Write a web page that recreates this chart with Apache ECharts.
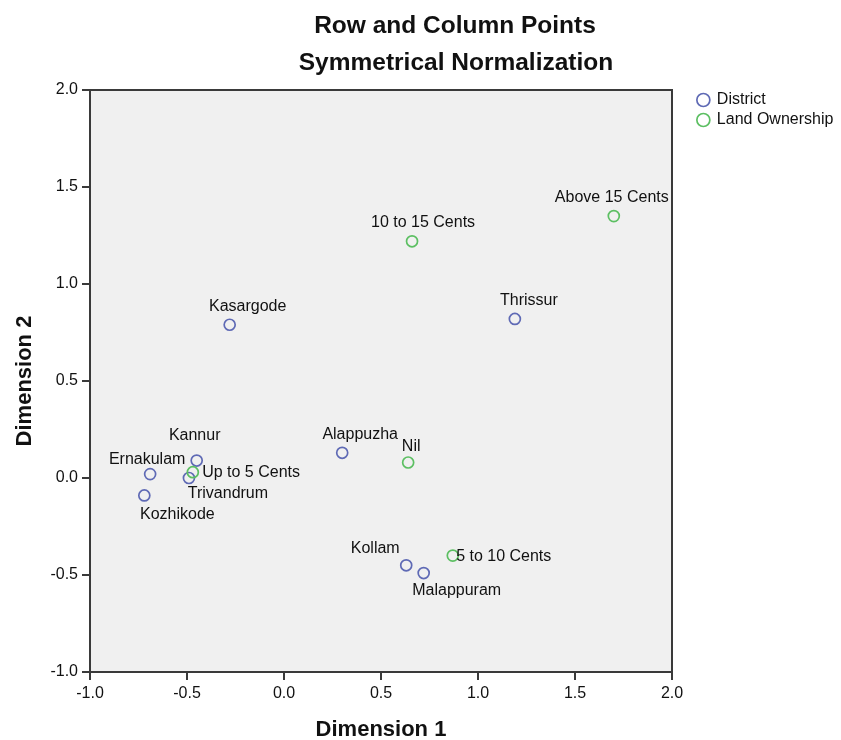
<!DOCTYPE html>
<html>
<head>
<meta charset="utf-8">
<title>Row and Column Points</title>
<script src="https://cdn.jsdelivr.net/npm/echarts@6/dist/echarts.min.js"></script>
<style>
  html, body { margin: 0; padding: 0; background: #ffffff; }
  #chart { width: 841px; height: 740px; }
</style>
</head>
<body>
<div id="chart"></div>
<script>
// Row points (districts)
var districtNames = ['Kasargode', 'Thrissur', 'Alappuzha', 'Kannur', 'Ernakulam', 'Trivandrum', 'Kozhikode', 'Kollam', 'Malappuram'];
var districtDim1  = [-0.28, 1.19, 0.30, -0.45, -0.69, -0.49, -0.72, 0.63, 0.72];
var districtDim2  = [0.79, 0.82, 0.13, 0.09, 0.02, 0.00, -0.09, -0.45, -0.49];

// Column points (land ownership)
var landNames = ['Up to 5 Cents', '5 to 10 Cents', '10 to 15 Cents', 'Above 15 Cents', 'Nil'];
var landDim1  = [-0.47, 0.87, 0.66, 1.70, 0.64];
var landDim2  = [0.03, -0.40, 1.22, 1.35, 0.08];

// Axis ticks
var axisMin = -1.0;
var axisMax = 2.0;
var tickStep = 0.5;

// Label placement per point: [position, distance, dx, dy]
var labelPlacement = {
  'Kasargode':      ['top', 4, 18, 0],
  'Thrissur':       ['top', 4, 14, 0],
  'Alappuzha':      ['top', 4, 18, 0],
  'Kannur':         ['top', 11, -2, 0],
  'Ernakulam':      ['top', 0, -3, 0],
  'Trivandrum':     ['bottom', 1, 39, 0],
  'Kozhikode':      ['bottom', 5, 33, 0],
  'Kollam':         ['top', 2, -31, 0],
  'Malappuram':     ['bottom', 3, 33, 0],
  'Up to 5 Cents':  ['right', 3, 0, 0],
  '5 to 10 Cents':  ['right', -3, 0, 1],
  '10 to 15 Cents': ['top', 4, 11, 0],
  'Above 15 Cents': ['top', 4, -2, 0],
  'Nil':            ['top', 2, 3, 0]
};

var districtColor = '#5f6ab5';
var landColor = '#5cbf62';
var font = 'Liberation Sans, Arial, sans-serif';

function buildPoints(names, xs, ys) {
  return names.map(function (name, i) {
    var p = labelPlacement[name];
    return {
      name: name,
      value: [xs[i], ys[i]],
      label: {
        position: p[0],
        distance: p[1],
        offset: [p[2], p[3]]
      }
    };
  });
}

function pointSeries(seriesName, color, data) {
  return {
    name: seriesName,
    type: 'scatter',
    symbol: 'circle',
    symbolSize: 11,
    itemStyle: { color: 'rgba(0,0,0,0)', borderColor: color, borderWidth: 1.7, opacity: 1 },
    label: {
      show: true,
      formatter: '{b}',
      color: '#111111',
      fontSize: 16,
      fontFamily: font
    },
    emphasis: { disabled: true },
    data: data
  };
}

var chart = echarts.init(document.getElementById('chart'), null, { renderer: 'canvas' });

var axisCommon = {
  type: 'value',
  min: axisMin,
  max: axisMax,
  interval: tickStep,
  nameLocation: 'middle',
  nameTextStyle: { fontSize: 22, fontWeight: 'bold', color: '#111111', fontFamily: font },
  axisLine: { show: true, onZero: false, lineStyle: { color: '#3a3a3a', width: 2 } },
  axisTick: { show: true, inside: false, length: 8, lineStyle: { color: '#3a3a3a', width: 2 } },
  axisLabel: {
    fontSize: 16,
    color: '#111111',
    fontFamily: font,
    formatter: function (v) { return v.toFixed(1); }
  },
  splitLine: { show: false }
};

chart.setOption({
  animation: false,
  backgroundColor: '#ffffff',
  title: [
    {
      text: 'Row and Column Points',
      left: 450,
      top: 9,
      textAlign: 'center',
      textStyle: { fontSize: 24.5, fontWeight: 'bold', color: '#111111', fontFamily: font }
    },
    {
      text: 'Symmetrical Normalization',
      left: 451,
      top: 46,
      textAlign: 'center',
      textStyle: { fontSize: 24.5, fontWeight: 'bold', color: '#111111', fontFamily: font }
    }
  ],
  legend: {
    orient: 'vertical',
    left: 691,
    top: 87,
    itemWidth: 13,
    itemHeight: 13,
    itemGap: 4,
    icon: 'circle',
    selectedMode: false,
    textStyle: { fontSize: 16, color: '#111111', fontFamily: font, padding: [0, 0, 0, 2] },
    data: [
      { name: 'District', itemStyle: { color: 'rgba(0,0,0,0)', borderColor: districtColor, borderWidth: 1.7 } },
      { name: 'Land Ownership', itemStyle: { color: 'rgba(0,0,0,0)', borderColor: landColor, borderWidth: 1.7 } }
    ]
  },
  grid: {
    left: 90,
    top: 90,
    width: 582,
    height: 582,
    outerBoundsMode: 'none',
    containLabel: false,
    show: true,
    backgroundColor: '#f0f0f0',
    borderColor: '#3a3a3a',
    borderWidth: 2
  },
  xAxis: Object.assign({}, axisCommon, {
    name: 'Dimension 1',
    nameGap: 47,
    axisLabel: Object.assign({}, axisCommon.axisLabel, { margin: 14 })
  }),
  yAxis: Object.assign({}, axisCommon, {
    name: 'Dimension 2',
    nameGap: 54,
    axisLabel: Object.assign({}, axisCommon.axisLabel, { margin: 12 })
  }),
  series: [
    pointSeries('District', districtColor, buildPoints(districtNames, districtDim1, districtDim2)),
    pointSeries('Land Ownership', landColor, buildPoints(landNames, landDim1, landDim2))
  ]
});
</script>
</body>
</html>
